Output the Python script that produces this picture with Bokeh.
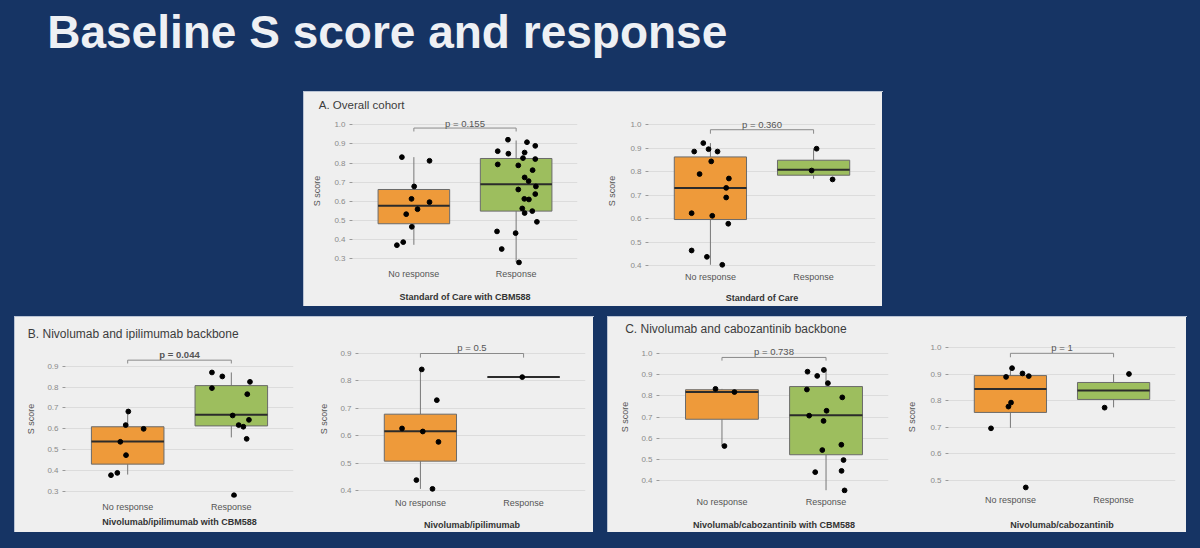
from bokeh.plotting import figure
from bokeh.layouts import row, column, Spacer
from bokeh.models import FixedTicker, PrintfTickFormatter, Label, Range1d
from bokeh.core.properties import value
from bokeh.embed import file_html
from bokeh.resources import INLINE

BG = "#163464"
PANEL = "#efefef"
GRID = "#dcdcdc"
ORANGE = "#ee9a3a"
GREEN = "#9dbe5e"
FONT = "Liberation Sans"

TITLE = "Baseline S score and response"
categories = ["No response", "Response"]
panel_titles = ["A. Overall cohort", "B. Nivolumab and ipilimumab backbone", "C. Nivolumab and cabozantinib backbone"]
x_titles = ["Standard of Care with CBM588", "Standard of Care",
            "Nivolumab/ipilimumab with CBM588", "Nivolumab/ipilimumab",
            "Nivolumab/cabozantinib with CBM588", "Nivolumab/cabozantinib"]
p_labels = ["p = 0.155", "p = 0.360", "p = 0.044", "p = 0.5", "p = 0.738", "p = 1"]
y_ticks = [[0.3, 0.4, 0.5, 0.6, 0.7, 0.8, 0.9, 1.0],
           [0.4, 0.5, 0.6, 0.7, 0.8, 0.9, 1.0],
           [0.3, 0.4, 0.5, 0.6, 0.7, 0.8, 0.9],
           [0.4, 0.5, 0.6, 0.7, 0.8, 0.9],
           [0.4, 0.5, 0.6, 0.7, 0.8, 0.9, 1.0],
           [0.5, 0.6, 0.7, 0.8, 0.9, 1.0]]

# ---- points: S score and horizontal jitter (category units) ----
a1_nr_y = [0.831, 0.812, 0.678, 0.613, 0.596, 0.559, 0.533, 0.467, 0.387, 0.371]
a1_nr_dx = [-0.117, 0.153, 0.003, -0.023, 0.153, 0.036, -0.075, -0.020, -0.104, -0.166]
a1_r_y = [0.922, 0.909, 0.890, 0.862, 0.849, 0.855, 0.826, 0.821, 0.793, 0.788, 0.763, 0.725, 0.706,
          0.678, 0.662, 0.638, 0.613, 0.610, 0.563, 0.549, 0.539, 0.493, 0.443, 0.434, 0.351, 0.281]
a1_r_dx = [-0.080, 0.106, 0.187, -0.180, -0.076, 0.083, 0.067, 0.187, -0.180, 0.021, 0.161, 0.083, 0.122,
           0.193, 0.021, 0.187, 0.080, 0.125, 0.060, 0.158, 0.083, 0.203, -0.187, -0.005, -0.141, 0.028]

a2_nr_y = [0.922, 0.886, 0.896, 0.886, 0.844, 0.790, 0.771, 0.731, 0.690, 0.623, 0.612, 0.578, 0.464, 0.437, 0.403]
a2_nr_dx = [-0.069, -0.157, -0.018, 0.069, 0.008, -0.105, 0.179, 0.153, 0.153, -0.182, 0.018, 0.173, -0.182, -0.034, 0.115]
a2_r_y = [0.898, 0.805, 0.767]
a2_r_dx = [0.029, -0.019, 0.184]

b1_nr_y = [0.683, 0.618, 0.600, 0.538, 0.474, 0.389, 0.378]
b1_nr_dx = [0.006, -0.019, 0.154, -0.071, -0.016, -0.100, -0.161]
b1_r_y = [0.870, 0.851, 0.825, 0.795, 0.766, 0.664, 0.643, 0.618, 0.610, 0.552, 0.282]
b1_r_dx = [-0.187, -0.087, 0.180, -0.187, 0.154, 0.013, 0.170, 0.071, 0.116, 0.148, 0.026]

b2_nr_y = [0.842, 0.730, 0.627, 0.616, 0.578, 0.439, 0.407]
b2_nr_dx = [0.013, 0.159, -0.178, 0.023, 0.175, -0.039, 0.117]
b2_r_y = [0.814]
b2_r_dx = [-0.013]

c1_nr_y = [0.833, 0.818, 0.564]
c1_nr_dx = [-0.062, 0.120, 0.024]
c1_r_y = [0.914, 0.922, 0.894, 0.860, 0.830, 0.793, 0.730, 0.707, 0.682, 0.570, 0.545, 0.498, 0.441, 0.447, 0.355]
c1_r_dx = [-0.178, -0.021, -0.085, 0.018, -0.184, 0.156, 0.005, -0.162, -0.024, 0.147, -0.036, 0.168, -0.104, 0.149, 0.178]

c2_nr_y = [0.923, 0.890, 0.903, 0.893, 0.793, 0.778, 0.696, 0.473]
c2_nr_dx = [0.016, -0.042, 0.117, 0.178, 0.006, -0.019, -0.188, 0.149]
c2_r_y = [0.901, 0.774]
c2_r_dx = [0.149, -0.087]

# ---- box statistics per group: [No response, Response] ----
a1_q1, a1_med, a1_q3, a1_lo, a1_hi = [0.483, 0.549], [0.577, 0.690], [0.662, 0.824], [0.373, 0.283], [0.831, 0.918]
a2_q1, a2_med, a2_q3, a2_lo, a2_hi = [0.596, 0.785], [0.731, 0.808], [0.863, 0.849], [0.403, 0.770], [0.922, 0.898]
b1_q1, b1_med, b1_q3, b1_lo, b1_hi = [0.431, 0.614], [0.539, 0.667], [0.610, 0.807], [0.381, 0.559], [0.685, 0.870]
b2_q1, b2_med, b2_q3, b2_lo, b2_hi = [0.508, 0.814], [0.617, 0.814], [0.679, 0.814], [0.407, 0.814], [0.842, 0.814]
c1_q1, c1_med, c1_q3, c1_lo, c1_hi = [0.690, 0.523], [0.818, 0.709], [0.829, 0.844], [0.564, 0.356], [0.833, 0.922]
c2_q1, c2_med, c2_q3, c2_lo, c2_hi = [0.756, 0.805], [0.844, 0.839], [0.895, 0.869], [0.698, 0.775], [0.923, 0.900]

# ---- significance bracket: horizontal level, leg end, label centre ----
bracket_h = [0.983, 0.979, 0.929, 0.900, 0.981, 0.979]
bracket_leg = [0.965, 0.962, 0.913, 0.885, 0.966, 0.964]
bracket_txt = [1.005, 1.000, 0.956, 0.921, 1.011, 1.000]

data = [
    (a1_nr_y, a1_nr_dx, a1_r_y, a1_r_dx, (a1_q1, a1_med, a1_q3, a1_lo, a1_hi)),
    (a2_nr_y, a2_nr_dx, a2_r_y, a2_r_dx, (a2_q1, a2_med, a2_q3, a2_lo, a2_hi)),
    (b1_nr_y, b1_nr_dx, b1_r_y, b1_r_dx, (b1_q1, b1_med, b1_q3, b1_lo, b1_hi)),
    (b2_nr_y, b2_nr_dx, b2_r_y, b2_r_dx, (b2_q1, b2_med, b2_q3, b2_lo, b2_hi)),
    (c1_nr_y, c1_nr_dx, c1_r_y, c1_r_dx, (c1_q1, c1_med, c1_q3, c1_lo, c1_hi)),
    (c2_nr_y, c2_nr_dx, c2_r_y, c2_r_dx, (c2_q1, c2_med, c2_q3, c2_lo, c2_hi)),
]

# ---- layout in page pixels: figure box, frame box, one tick position + px per unit ----
layouts = [
    dict(x0=304, y0=113, w=296, h=193, fl=352, fr=577, ft=113, fb=268, tick=(1.0, 124.3, 191.4),
         so=0, xls=10, yls=9),
    dict(x0=600, y0=113, w=282, h=193, fl=648, fr=875, ft=113, fb=268, tick=(1.0, 124.3, 234.5),
         so=3, xls=8, yls=10),
    dict(x0=15, y0=340, w=290, h=192, fl=65, fr=293, ft=340, fb=497, tick=(0.9, 365.7, 208.8),
         so=4, xls=2, yls=8),
    dict(x0=305, y0=340, w=288, h=192, fl=358, fr=585, ft=340, fb=497, tick=(0.9, 353.0, 274.6),
         so=0, xls=9, yls=8),
    dict(x0=608, y0=340, w=290, h=192, fl=659, fr=888, ft=340, fb=494, tick=(1.0, 353.0, 213.8),
         so=3, xls=10, yls=8),
    dict(x0=898, y0=340, w=288, h=192, fl=948, fr=1175, ft=340, fb=494, tick=(1.0, 347.3, 266.8),
         so=1, xls=12, yls=10),
]
# title strips: (left, top, width, height, text left, text centre y, font size)
strips = [(304, 92, 578, 21, 318.3, 104.0, "11.5px"),
          (15, 317, 578, 23, 27.3, 333.5, "12px"),
          (608, 317, 578, 23, 624.7, 328.7, "12px")]

BOX_W = 0.7
xc = [1, 2]
X_LO, X_HI = 0.4, 2.6


def make_plot(i):
    lay = layouts[i]
    nr_y, nr_dx, r_y, r_dx, (q1, med, q3, lo, hi) = data[i]
    tv, tp, s = lay["tick"]
    y_end = tv + (tp - lay["ft"]) / s
    y_start = tv - (lay["fb"] - tp) / s

    p = figure(width=lay["w"], height=lay["h"], output_backend="svg", toolbar_location=None,
               x_range=Range1d(X_LO, X_HI), y_range=Range1d(y_start, y_end),
               min_border_left=lay["fl"] - lay["x0"], min_border_right=lay["x0"] + lay["w"] - lay["fr"],
               min_border_top=lay["ft"] - lay["y0"], min_border_bottom=lay["y0"] + lay["h"] - lay["fb"],
               background_fill_color=PANEL, border_fill_color=PANEL, outline_line_color=None)
    p.xgrid.visible = False
    p.ygrid.grid_line_color = GRID
    p.ygrid.grid_line_width = 1

    xa = p.xaxis[0]
    xa.ticker = FixedTicker(ticks=xc)
    xa.major_label_overrides = {1: categories[0], 2: categories[1]}
    xa.axis_line_color = None
    xa.major_tick_line_color = None
    xa.major_tick_out = 0
    xa.major_tick_in = 0
    xa.minor_tick_line_color = None
    xa.minor_tick_out = 0
    xa.major_label_standoff = lay["so"]
    xa.major_label_text_font = FONT
    xa.major_label_text_font_size = "9px"
    xa.major_label_text_color = "#555555"
    xa.axis_label = x_titles[i]
    xa.axis_label_text_font = FONT
    xa.axis_label_text_font_size = "9px"
    xa.axis_label_text_font_style = "bold"
    xa.axis_label_text_color = "#333333"
    xa.axis_label_standoff = lay["xls"]

    ya = p.yaxis[0]
    ya.ticker = FixedTicker(ticks=y_ticks[i])
    ya.formatter = PrintfTickFormatter(format="%.1f")
    ya.axis_line_color = None
    ya.major_tick_line_color = "#999999"
    ya.major_tick_out = 3
    ya.major_tick_in = 0
    ya.minor_tick_line_color = None
    ya.minor_tick_out = 0
    ya.major_label_standoff = 4
    ya.major_label_text_font = FONT
    ya.major_label_text_font_size = "8px"
    ya.major_label_text_color = "#8a8a8a"
    ya.axis_label = "S score"
    ya.axis_label_text_font = FONT
    ya.axis_label_text_font_size = "9px"
    ya.axis_label_text_font_style = "normal"
    ya.axis_label_text_color = "#555555"
    ya.axis_label_standoff = lay["yls"]

    # whiskers
    p.segment(x0=xc, x1=xc, y0=q3, y1=hi, line_color="#777777", line_width=1)
    p.segment(x0=xc, x1=xc, y0=q1, y1=lo, line_color="#777777", line_width=1)
    # boxes
    p.vbar(x=xc, width=BOX_W, bottom=q1, top=q3, fill_color=[ORANGE, GREEN],
           line_color="#6a6a6a", line_width=1)
    # medians
    p.segment(x0=[c - BOX_W / 2 for c in xc], x1=[c + BOX_W / 2 for c in xc], y0=med, y1=med,
              line_color="#2b2b2b", line_width=2)
    # jittered points
    p.scatter(x=[xc[0] + d for d in nr_dx], y=nr_y, size=4.8, color="black")
    p.scatter(x=[xc[1] + d for d in r_dx], y=r_y, size=4.8, color="black")
    # bracket
    p.multi_line(xs=[[xc[0], xc[0], xc[1], xc[1]]],
                 ys=[[bracket_leg[i], bracket_h[i], bracket_h[i], bracket_leg[i]]],
                 line_color="#8a8a8a", line_width=1)
    p.text(x=[(xc[0] + xc[1]) / 2], y=[bracket_txt[i]], text=[p_labels[i]],
           text_align="center", text_baseline="middle", text_font=value(FONT),
           text_font_size="9.5px", text_color="#555555",
           text_font_style="bold" if i == 2 else "normal")
    return p


def make_strip(k):
    left, top, w, h, tx, ty, fs = strips[k]
    f = figure(width=w, height=h, output_backend="svg", toolbar_location=None,
               x_axis_location=None, y_axis_location=None, min_border=0,
               x_range=Range1d(left, left + w), y_range=Range1d(top + h, top),
               background_fill_color=PANEL, border_fill_color=PANEL, outline_line_color=None)
    f.grid.visible = False
    f.add_layout(Label(x=tx, y=ty, text=panel_titles[k], text_font=FONT, text_font_size=fs,
                       text_color="#3c3c3c", text_baseline="middle", text_align="left"))
    return f


plots = [make_plot(i) for i in range(6)]
stripA, stripB, stripC = [make_strip(k) for k in range(3)]

header = figure(width=1200, height=92, output_backend="svg", toolbar_location=None,
                x_axis_location=None, y_axis_location=None, min_border=0,
                x_range=Range1d(0, 1200), y_range=Range1d(92, 0),
                background_fill_color=BG, border_fill_color=BG, outline_line_color=None)
header.grid.visible = False
header.add_layout(Label(x=46.7, y=31.0, text=TITLE,
                        text_font=FONT, text_font_size="46px", text_font_style="bold",
                        text_color="#eef0f4", text_baseline="middle", text_align="left"))

bgs = {"background-color": BG}
pns = {"background-color": PANEL}
pnl = {"background-color": PANEL, "outline": "1px solid #b9c3d4"}
colA = column(stripA, row(plots[0], plots[1], spacing=0, styles=pns), spacing=0, styles=pnl)
colB = column(stripB, row(plots[2], plots[3], spacing=0, styles=pns), spacing=0, styles=pnl)
colC = column(stripC, row(plots[4], plots[5], spacing=0, styles=pns), spacing=0, styles=pnl)
rowA = row(Spacer(width=304, height=214, styles=bgs), colA,
           Spacer(width=318, height=214, styles=bgs), spacing=0, styles=bgs)
rowBC = row(Spacer(width=15, height=215, styles=bgs), colB,
            Spacer(width=15, height=215, styles=bgs), colC,
            Spacer(width=14, height=215, styles=bgs), spacing=0, styles=bgs)
layout = column(header, rowA, Spacer(width=1200, height=11, styles=bgs), rowBC,
                Spacer(width=1200, height=16, styles=bgs), spacing=0, styles=bgs)

open("out.html", "w").write(file_html(layout, INLINE))
